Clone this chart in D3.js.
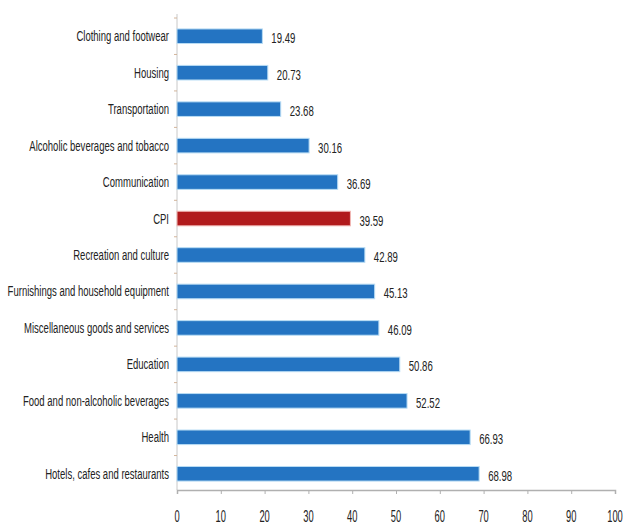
<!DOCTYPE html>
<html><head><meta charset="utf-8">
<script src="https://cdn.jsdelivr.net/npm/d3@7"></script>
<style>
body{margin:0;background:#fff;}
text{font-family:"Liberation Sans",Arial,sans-serif;fill:#222;}
</style></head>
<body><svg id="c" width="626" height="529"></svg>
<script>
const categories = ["Clothing and footwear","Housing","Transportation","Alcoholic beverages and tobacco","Communication","CPI","Recreation and culture","Furnishings and household equipment","Miscellaneous goods and services","Education","Food and non-alcoholic beverages","Health","Hotels, cafes and restaurants"];
const values = [19.49,20.73,23.68,30.16,36.69,39.59,42.89,45.13,46.09,50.86,52.52,66.93,68.98];
const highlight = ["CPI"];
const xTicks = [0,10,20,30,40,50,60,70,80,90,100];

const svg = d3.select("#c");
const x = d3.scaleLinear().domain([0,100]).range([177,615]);
const y = d3.scaleBand().domain(categories).range([18,492]).paddingInner(0.6).paddingOuter(0.3);
const axisY = 490;

// y axis line
svg.append("line").attr("x1",177).attr("x2",177).attr("y1",14).attr("y2",axisY)
  .attr("stroke","#c8c8c8").attr("stroke-width",1);
const step = y.step();
categories.forEach((c,i)=>{
  const yy = y(c) - step*y.paddingInner()/2;
  svg.append("line").attr("x1",174).attr("x2",177).attr("y1",yy).attr("y2",yy).attr("stroke","#d2b49a");
});

// x axis
const xAxis = d3.axisBottom(x).tickValues(xTicks).tickSize(4).tickFormat("");
const gx = svg.append("g").attr("transform",`translate(0,${axisY})`).call(xAxis);
gx.select(".domain").attr("stroke","#b0b0b0").attr("stroke-width",1.5);
gx.selectAll(".tick line").attr("stroke","#b0b0b0");
// tick labels (condensed)
svg.selectAll("text.tick").data(xTicks).join("text").attr("class","tick")
  .attr("transform",d=>`translate(${x(d)},${axisY+32}) scale(0.55,1)`)
  .attr("text-anchor","middle").attr("font-size",17).text(d=>d);

// bars
svg.selectAll("rect.bar").data(categories).join("rect").attr("class","bar")
  .attr("x",x(0)).attr("y",d=>y(d)).attr("height",y.bandwidth())
  .attr("width",(d,i)=>x(values[i])-x(0))
  .attr("fill",d=>highlight.includes(d)?"#b11a1c":"#2474c2")
  .attr("stroke",d=>highlight.includes(d)?"#f2b9b6":"#b8dcf4").attr("stroke-width",1);

// category labels
svg.selectAll("text.cat").data(categories).join("text").attr("class","cat")
  .attr("transform",d=>`translate(169,${y(d)+y.bandwidth()/2+5}) scale(0.68,1)`)
  .attr("text-anchor","end").attr("font-size",14).text(d=>d);

// value labels
svg.selectAll("text.val").data(categories).join("text").attr("class","val")
  .attr("transform",(d,i)=>`translate(${x(values[i])+9},${y(d)+y.bandwidth()/2+7}) scale(0.64,1)`)
  .attr("font-size",15).text((d,i)=>values[i].toFixed(2));
</script></body></html>
